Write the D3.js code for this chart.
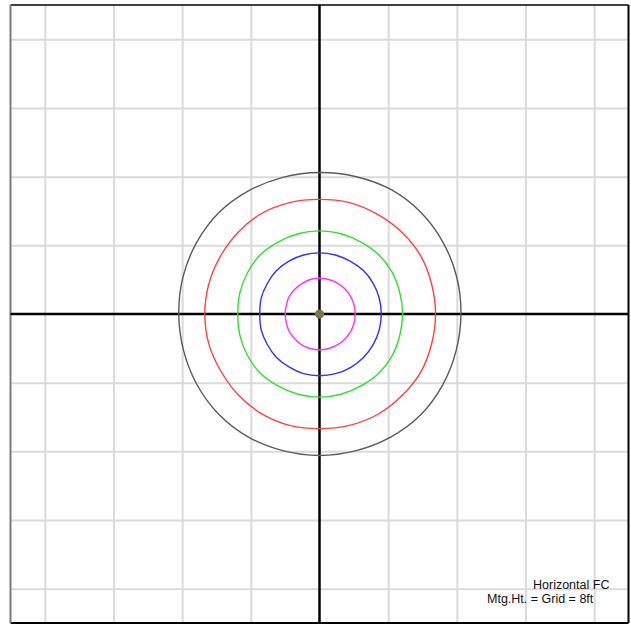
<!DOCTYPE html>
<html lang="en">
<head>
  <meta charset="UTF-8">
  <title>Horizontal FC</title>
  <style>
    body { margin: 0; background: #fff; }
    .grid line { stroke: #dadada; stroke-width: 2; }
    .grid path { display: none; }
    .note { font-family: "Liberation Sans", Arial, sans-serif; font-size: 12.5px; fill: #111; }
  </style>
</head>
<body>
  <script src="https://d3js.org/d3.v7.min.js"></script>
  <script>
    const SVGWIDTH = 631;
    const SVGHEIGHT = 625;

    // grid in mounting heights (1 grid = 8ft)
    const gridTicks = [-4, -3, -2, -1, 1, 2, 3, 4];
    // angles of the contour samples, degrees CCW from east
    const angles = [0, 15, 30, 45, 60, 75, 90, 105, 120, 135, 150, 165,
                    180, 195, 210, 225, 240, 255, 270, 285, 300, 315, 330, 345];
    // contour radii, grid units
    const blackContour = [2.06, 2.07, 2.08, 2.09, 2.09, 2.07, 2.06, 2.06, 2.07, 2.08, 2.07, 2.06,
                          2.05, 2.05, 2.06, 2.07, 2.07, 2.06, 2.06, 2.06, 2.07, 2.08, 2.07, 2.06];
    const redContour   = [1.69, 1.69, 1.70, 1.69, 1.68, 1.68, 1.67, 1.68, 1.69, 1.68, 1.67, 1.67,
                          1.67, 1.67, 1.66, 1.67, 1.68, 1.68, 1.67, 1.68, 1.69, 1.69, 1.70, 1.69];
    const greenContour = [1.21, 1.21, 1.22, 1.22, 1.21, 1.21, 1.21, 1.21, 1.21, 1.22, 1.21, 1.20,
                          1.19, 1.20, 1.21, 1.22, 1.21, 1.21, 1.21, 1.21, 1.21, 1.22, 1.22, 1.21];
    const blueContour  = [0.90, 0.90, 0.90, 0.90, 0.89, 0.89, 0.89, 0.89, 0.89, 0.89, 0.88, 0.88,
                          0.87, 0.88, 0.88, 0.89, 0.89, 0.90, 0.90, 0.90, 0.90, 0.90, 0.90, 0.90];
    const magentaContour = [0.52, 0.52, 0.52, 0.52, 0.52, 0.52, 0.52, 0.52, 0.51, 0.51, 0.51, 0.50,
                            0.50, 0.50, 0.51, 0.51, 0.52, 0.52, 0.52, 0.52, 0.52, 0.52, 0.52, 0.52];
    const contourColors = ['#5a5a5a', '#ff4040', '#2ee02e', '#3030ff', '#ff30ff'];
    const noteLines = ['Horizontal FC', 'Mtg.Ht. = Grid = 8ft'];

    const x = d3.scaleLinear().domain([-4.5, 4.5]).range([10.5, 628.5]);
    const y = d3.scaleLinear().domain([-4.5, 4.5]).range([623, 5]);

    const svg = d3.select('body').append('svg')
      .attr('width', SVGWIDTH)
      .attr('height', SVGHEIGHT);

    // grid lines through axes
    svg.append('g').attr('class', 'grid')
      .attr('transform', `translate(0,${y(-4.5)})`)
      .call(d3.axisBottom(x).tickValues(gridTicks).tickSize(-(y(-4.5) - y(4.5))).tickFormat(''));
    svg.append('g').attr('class', 'grid')
      .attr('transform', `translate(${x(-4.5)},0)`)
      .call(d3.axisLeft(y).tickValues(gridTicks).tickSize(-(x(4.5) - x(-4.5))).tickFormat(''));

    // frame
    svg.append('line').attr('x1', x(-4.5)).attr('x2', x(4.5)).attr('y1', y(4.5)).attr('y2', y(4.5))
      .attr('stroke', '#000').attr('stroke-width', 1.5);
    svg.append('line').attr('x1', x(4.5)).attr('x2', x(4.5)).attr('y1', y(4.5)).attr('y2', y(-4.5))
      .attr('stroke', '#000').attr('stroke-width', 2);
    svg.append('line').attr('x1', x(-4.5)).attr('x2', x(4.5)).attr('y1', y(-4.5)).attr('y2', y(-4.5))
      .attr('stroke', '#000').attr('stroke-width', 2);
    svg.append('line').attr('x1', x(-4.5)).attr('x2', x(-4.5)).attr('y1', y(4.5)).attr('y2', y(-4.5))
      .attr('stroke', '#7a7a7a').attr('stroke-width', 2);

    // main axes
    svg.append('line').attr('x1', x(-4.5)).attr('x2', x(4.5)).attr('y1', y(0)).attr('y2', y(0))
      .attr('stroke', '#000').attr('stroke-width', 2.5);
    svg.append('line').attr('x1', x(0)).attr('x2', x(0)).attr('y1', y(4.5)).attr('y2', y(-4.5))
      .attr('stroke', '#000').attr('stroke-width', 2.5);

    // contours
    const contours = [blackContour, redContour, greenContour, blueContour, magentaContour];
    const line = d3.line()
      .x(d => x(d.r * Math.cos(d.a * Math.PI / 180)))
      .y(d => y(d.r * Math.sin(d.a * Math.PI / 180)))
      .curve(d3.curveCatmullRomClosed);

    svg.selectAll('path.contour')
      .data(contours)
      .enter()
      .append('path')
      .attr('class', 'contour')
      .attr('d', radii => line(radii.map((r, i) => ({ r: r, a: angles[i] }))))
      .attr('fill', 'none')
      .attr('stroke', (d, i) => contourColors[i])
      .attr('stroke-width', 1.4);

    // luminaire location
    svg.append('circle')
      .attr('cx', x(0)).attr('cy', y(0)).attr('r', 4.5)
      .attr('fill', '#7d7447');

    // note text
    svg.append('text').attr('class', 'note').attr('x', 533).attr('y', 589).text(noteLines[0]);
    svg.append('text').attr('class', 'note').attr('x', 487).attr('y', 603).text(noteLines[1]);
  </script>
</body>
</html>
